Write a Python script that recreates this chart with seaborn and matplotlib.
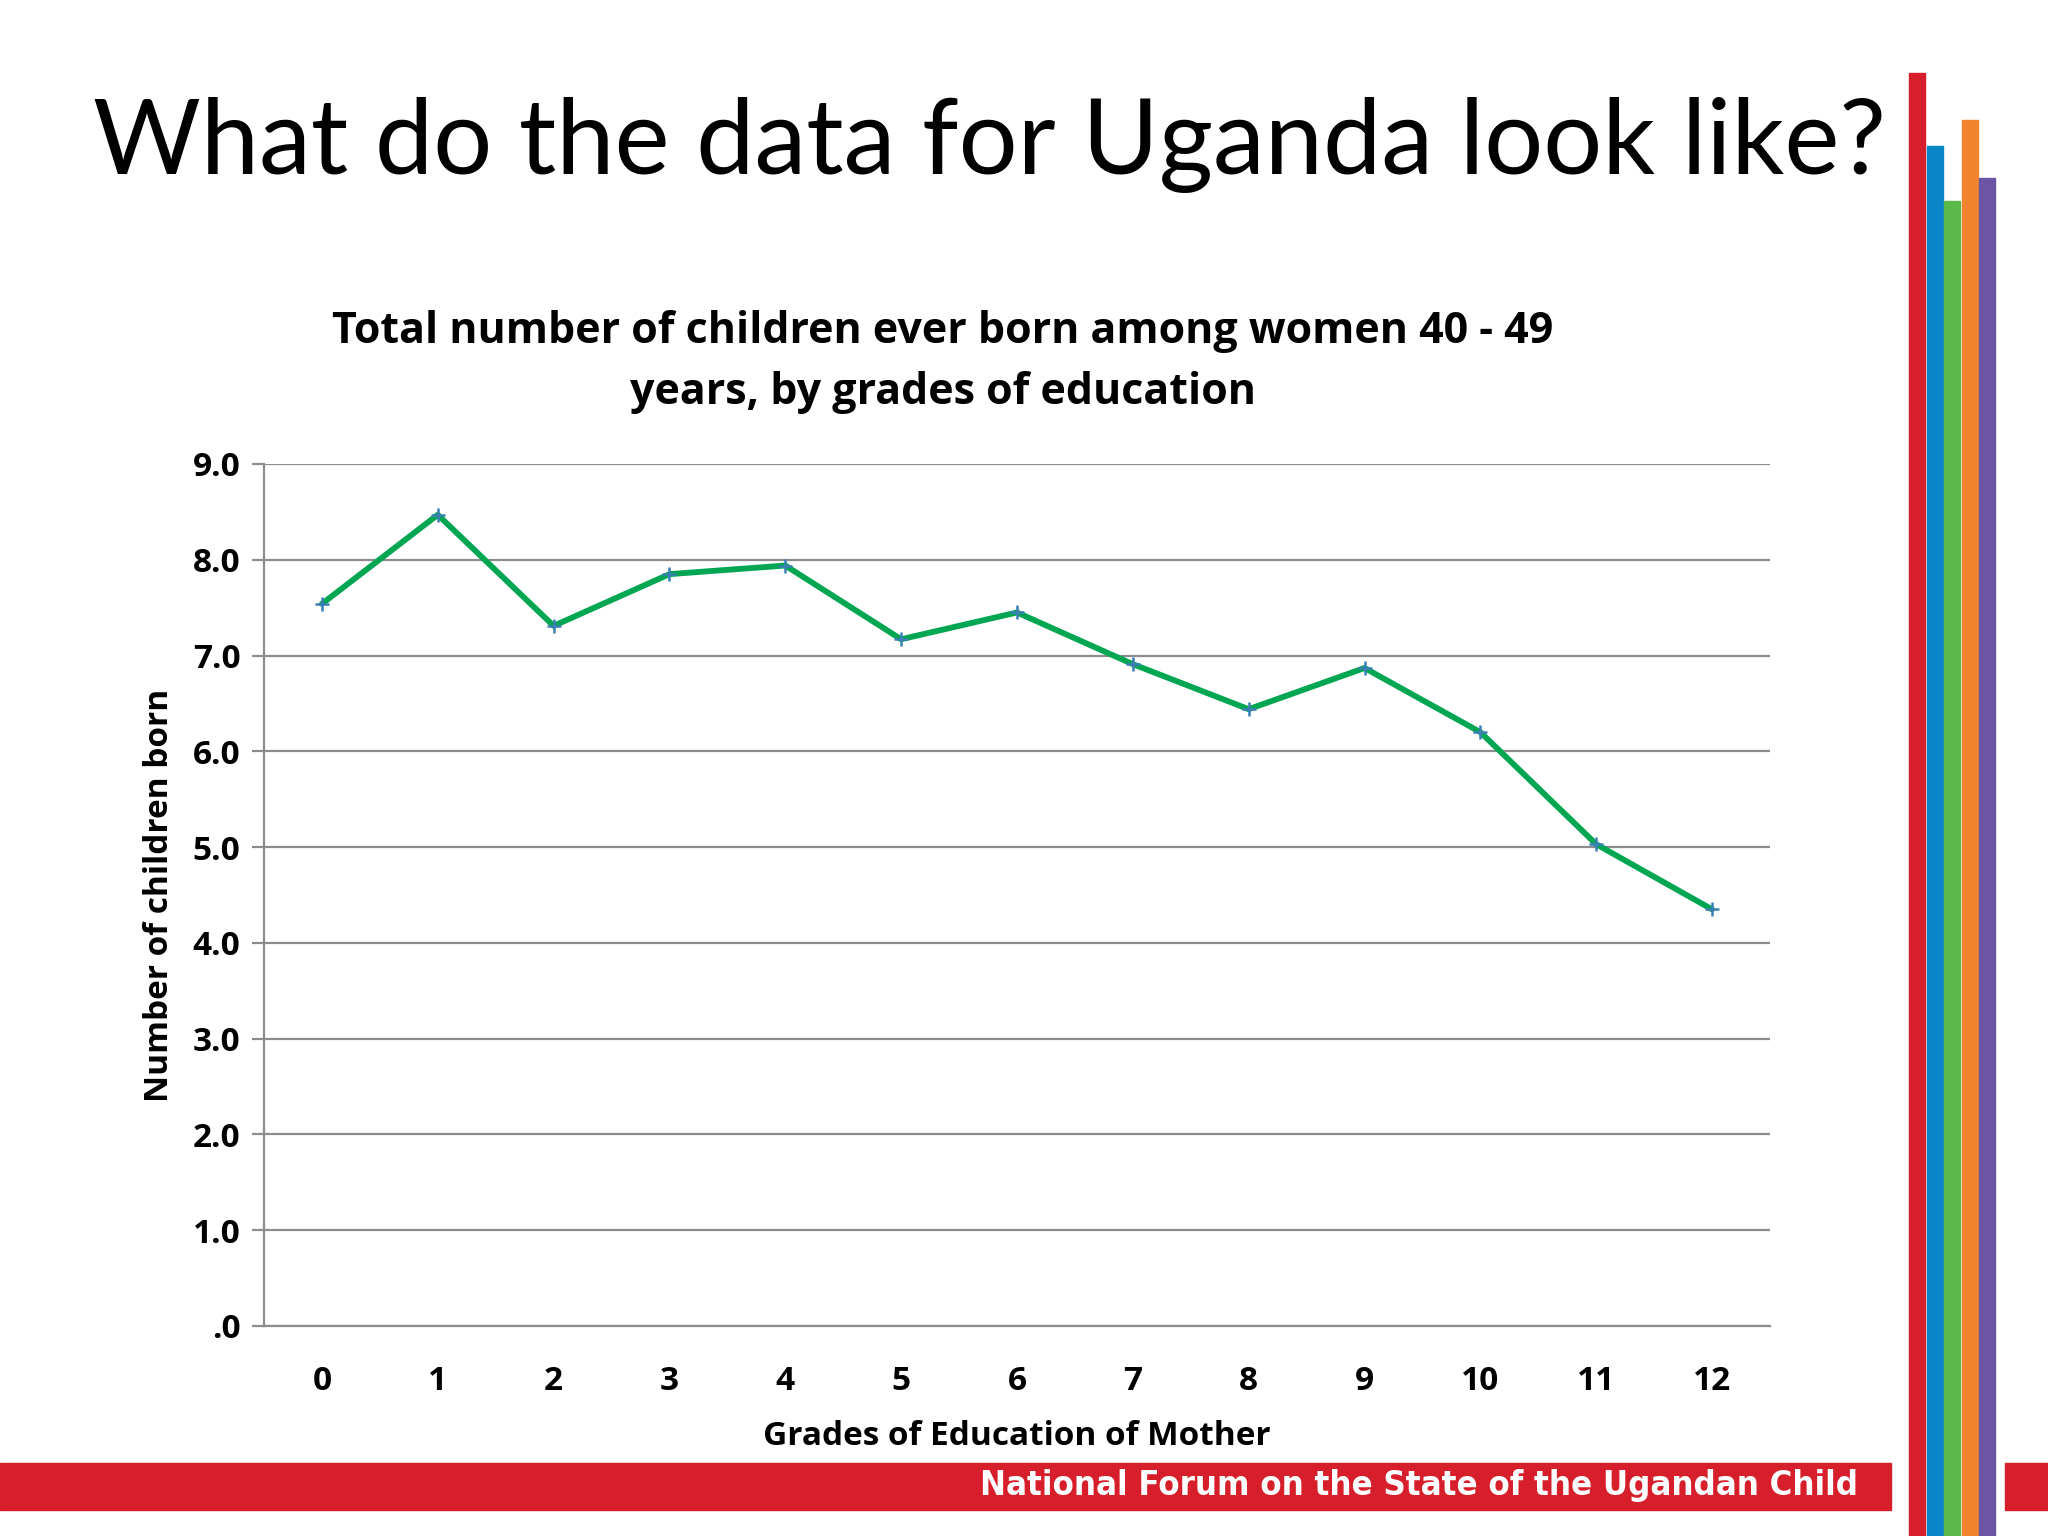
import matplotlib.pyplot as plt
import pandas as pd
import seaborn as sns
from matplotlib.patches import Rectangle

GRADES = list(range(13))
CHILDREN = [7.54, 8.47, 7.31, 7.85, 7.94, 7.17, 7.45, 6.91, 6.44, 6.87, 6.20, 5.03, 4.35]
Y_TICKS = [0, 1, 2, 3, 4, 5, 6, 7, 8, 9]
Y_LABELS = [".0", "1.0", "2.0", "3.0", "4.0", "5.0", "6.0", "7.0", "8.0", "9.0"]

STRIPE_COLORS = ["#d71f2b", "#0a86c8", "#5db84a", "#f28430", "#6c55a5"]
STRIPE_TOPS = [73, 146, 201, 120, 178]  # pixel rows from top

BOLD = ["Open Sans", "DejaVu Sans"]


def main():
    sns.set_theme(style="white")
    plt.rcParams["font.family"] = ["Lato", "DejaVu Sans"]
    plt.rcParams["text.color"] = "black"
    plt.rcParams["axes.labelcolor"] = "black"
    plt.rcParams["xtick.color"] = "black"
    plt.rcParams["ytick.color"] = "black"

    df = pd.DataFrame({"grade": GRADES, "children": CHILDREN})

    fig = plt.figure(figsize=(20.48, 15.36), dpi=100)
    W, H = 2048, 1536

    # slide title
    fig.text(93 / W, 1 - 145 / H, "What do the data for Uganda look like?",
             fontsize=75, color="black", ha="left", va="center")

    # coloured stripes on the right
    for i, (c, top) in enumerate(zip(STRIPE_COLORS, STRIPE_TOPS)):
        x0 = 1909 + i * 17.5
        fig.patches.append(Rectangle((x0 / W, 0), 16 / W, 1 - top / H,
                                     transform=fig.transFigure, color=c, zorder=5))

    # bottom banner
    fig.patches.append(Rectangle((0, 1 - 1510 / H), 1891 / W, 47 / H,
                                 transform=fig.transFigure, color="#d71f2b", zorder=4))
    fig.patches.append(Rectangle((2005 / W, 1 - 1510 / H), 43 / W, 47 / H,
                                 transform=fig.transFigure, color="#d71f2b", zorder=4))
    fig.text(1858 / W, 1 - 1485 / H, "National Forum on the State of the Ugandan Child",
             fontsize=24.8, fontweight="bold", fontstretch="condensed", color="white",
             ha="right", va="center", family=["DejaVu Sans"], zorder=6)

    ax = fig.add_axes([264 / W, 1 - 1326 / H, (1770 - 264) / W, (1326 - 464) / H])
    sns.lineplot(data=df, x="grade", y="children", ax=ax, color="#00a651",
                 linewidth=4.2, marker="+", markersize=10, markeredgewidth=1.8,
                 markeredgecolor="#3b7fb5", zorder=3)

    ax.set_xlim(-0.5, 12.5)
    ax.set_ylim(0, 9)
    ax.set_xticks(GRADES)
    ax.set_xticklabels([str(g) for g in GRADES], fontsize=24, fontweight="bold", family=BOLD)
    ax.set_yticks(Y_TICKS)
    ax.set_yticklabels(Y_LABELS, fontsize=24, fontweight="bold", family=BOLD)
    ax.yaxis.grid(True, color="#8c8c8c", linewidth=1.6)
    ax.set_axisbelow(True)
    for side in ["top", "right"]:
        ax.spines[side].set_visible(False)
    ax.spines["left"].set_color("#8c8c8c")
    ax.spines["bottom"].set_color("#8c8c8c")
    ax.spines["left"].set_linewidth(1.6)
    ax.spines["bottom"].set_linewidth(1.6)
    ax.tick_params(axis="y", left=True, length=9, width=1.6, color="#8c8c8c", pad=8)
    ax.tick_params(axis="x", bottom=False, pad=22)

    ax.set_xlabel("Grades of Education of Mother", fontsize=24, fontweight="bold",
                  family=BOLD, labelpad=16)
    ax.set_ylabel("Number of children born", fontsize=24, fontweight="bold",
                  family=BOLD, labelpad=12)

    fig.text(943 / W, 1 - 362 / H,
             "Total number of children ever born among women 40 - 49\nyears, by grades of education",
             fontsize=31, fontweight="bold", family=BOLD, ha="center", va="center",
             linespacing=1.55)

    fig.savefig("out.png", dpi=100)
    plt.close(fig)


if __name__ == "__main__":
    main()
